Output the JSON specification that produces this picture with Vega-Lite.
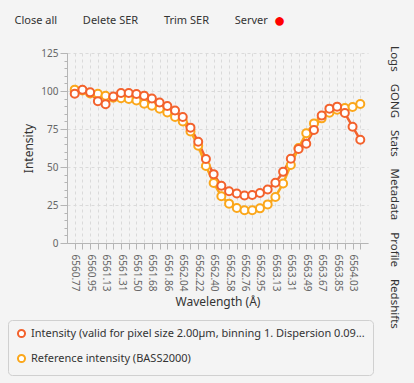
{
  "$schema": "https://vega.github.io/schema/vega-lite/v6.json",
  "width": 301,
  "height": 190,
  "autosize": {"type": "none"},
  "padding": {"left": 67, "top": 53, "right": 46, "bottom": 140},
  "background": "#f4f4f4",
  "config": {"font": "Noto Sans", "view": {"stroke": null}},
  "data": {
    "values": [
      {"wavelength": "6560.77", "series": "Intensity (valid for pixel size 2.00µm, binning 1. Dispersion 0.09...", "intensity": 98.2},
      {"wavelength": "6560.86", "series": "Intensity (valid for pixel size 2.00µm, binning 1. Dispersion 0.09...", "intensity": 100.8},
      {"wavelength": "6560.95", "series": "Intensity (valid for pixel size 2.00µm, binning 1. Dispersion 0.09...", "intensity": 99.1},
      {"wavelength": "6561.04", "series": "Intensity (valid for pixel size 2.00µm, binning 1. Dispersion 0.09...", "intensity": 93.2},
      {"wavelength": "6561.13", "series": "Intensity (valid for pixel size 2.00µm, binning 1. Dispersion 0.09...", "intensity": 91.3},
      {"wavelength": "6561.22", "series": "Intensity (valid for pixel size 2.00µm, binning 1. Dispersion 0.09...", "intensity": 96.3},
      {"wavelength": "6561.31", "series": "Intensity (valid for pixel size 2.00µm, binning 1. Dispersion 0.09...", "intensity": 98.7},
      {"wavelength": "6561.41", "series": "Intensity (valid for pixel size 2.00µm, binning 1. Dispersion 0.09...", "intensity": 98.7},
      {"wavelength": "6561.50", "series": "Intensity (valid for pixel size 2.00µm, binning 1. Dispersion 0.09...", "intensity": 98.0},
      {"wavelength": "6561.59", "series": "Intensity (valid for pixel size 2.00µm, binning 1. Dispersion 0.09...", "intensity": 96.9},
      {"wavelength": "6561.68", "series": "Intensity (valid for pixel size 2.00µm, binning 1. Dispersion 0.09...", "intensity": 95.1},
      {"wavelength": "6561.77", "series": "Intensity (valid for pixel size 2.00µm, binning 1. Dispersion 0.09...", "intensity": 92.4},
      {"wavelength": "6561.86", "series": "Intensity (valid for pixel size 2.00µm, binning 1. Dispersion 0.09...", "intensity": 90.1},
      {"wavelength": "6561.95", "series": "Intensity (valid for pixel size 2.00µm, binning 1. Dispersion 0.09...", "intensity": 87.2},
      {"wavelength": "6562.04", "series": "Intensity (valid for pixel size 2.00µm, binning 1. Dispersion 0.09...", "intensity": 82.9},
      {"wavelength": "6562.13", "series": "Intensity (valid for pixel size 2.00µm, binning 1. Dispersion 0.09...", "intensity": 75.9},
      {"wavelength": "6562.22", "series": "Intensity (valid for pixel size 2.00µm, binning 1. Dispersion 0.09...", "intensity": 66.6},
      {"wavelength": "6562.31", "series": "Intensity (valid for pixel size 2.00µm, binning 1. Dispersion 0.09...", "intensity": 55.3},
      {"wavelength": "6562.40", "series": "Intensity (valid for pixel size 2.00µm, binning 1. Dispersion 0.09...", "intensity": 45.3},
      {"wavelength": "6562.49", "series": "Intensity (valid for pixel size 2.00µm, binning 1. Dispersion 0.09...", "intensity": 37.7},
      {"wavelength": "6562.58", "series": "Intensity (valid for pixel size 2.00µm, binning 1. Dispersion 0.09...", "intensity": 34.0},
      {"wavelength": "6562.67", "series": "Intensity (valid for pixel size 2.00µm, binning 1. Dispersion 0.09...", "intensity": 32.6},
      {"wavelength": "6562.76", "series": "Intensity (valid for pixel size 2.00µm, binning 1. Dispersion 0.09...", "intensity": 31.3},
      {"wavelength": "6562.85", "series": "Intensity (valid for pixel size 2.00µm, binning 1. Dispersion 0.09...", "intensity": 31.6},
      {"wavelength": "6562.95", "series": "Intensity (valid for pixel size 2.00µm, binning 1. Dispersion 0.09...", "intensity": 32.9},
      {"wavelength": "6563.04", "series": "Intensity (valid for pixel size 2.00µm, binning 1. Dispersion 0.09...", "intensity": 35.2},
      {"wavelength": "6563.13", "series": "Intensity (valid for pixel size 2.00µm, binning 1. Dispersion 0.09...", "intensity": 39.6},
      {"wavelength": "6563.22", "series": "Intensity (valid for pixel size 2.00µm, binning 1. Dispersion 0.09...", "intensity": 46.8},
      {"wavelength": "6563.31", "series": "Intensity (valid for pixel size 2.00µm, binning 1. Dispersion 0.09...", "intensity": 55.4},
      {"wavelength": "6563.40", "series": "Intensity (valid for pixel size 2.00µm, binning 1. Dispersion 0.09...", "intensity": 61.8},
      {"wavelength": "6563.49", "series": "Intensity (valid for pixel size 2.00µm, binning 1. Dispersion 0.09...", "intensity": 65.3},
      {"wavelength": "6563.58", "series": "Intensity (valid for pixel size 2.00µm, binning 1. Dispersion 0.09...", "intensity": 74.3},
      {"wavelength": "6563.67", "series": "Intensity (valid for pixel size 2.00µm, binning 1. Dispersion 0.09...", "intensity": 83.8},
      {"wavelength": "6563.76", "series": "Intensity (valid for pixel size 2.00µm, binning 1. Dispersion 0.09...", "intensity": 88.4},
      {"wavelength": "6563.85", "series": "Intensity (valid for pixel size 2.00µm, binning 1. Dispersion 0.09...", "intensity": 89.7},
      {"wavelength": "6563.94", "series": "Intensity (valid for pixel size 2.00µm, binning 1. Dispersion 0.09...", "intensity": 85.5},
      {"wavelength": "6564.03", "series": "Intensity (valid for pixel size 2.00µm, binning 1. Dispersion 0.09...", "intensity": 76.5},
      {"wavelength": "6564.12", "series": "Intensity (valid for pixel size 2.00µm, binning 1. Dispersion 0.09...", "intensity": 67.9},
      {"wavelength": "6560.77", "series": "Reference intensity (BASS2000)", "intensity": 100.9},
      {"wavelength": "6560.86", "series": "Reference intensity (BASS2000)", "intensity": 100.4},
      {"wavelength": "6560.95", "series": "Reference intensity (BASS2000)", "intensity": 98.4},
      {"wavelength": "6561.04", "series": "Reference intensity (BASS2000)", "intensity": 98.2},
      {"wavelength": "6561.13", "series": "Reference intensity (BASS2000)", "intensity": 96.9},
      {"wavelength": "6561.22", "series": "Reference intensity (BASS2000)", "intensity": 95.6},
      {"wavelength": "6561.31", "series": "Reference intensity (BASS2000)", "intensity": 95.3},
      {"wavelength": "6561.41", "series": "Reference intensity (BASS2000)", "intensity": 94.7},
      {"wavelength": "6561.50", "series": "Reference intensity (BASS2000)", "intensity": 93.8},
      {"wavelength": "6561.59", "series": "Reference intensity (BASS2000)", "intensity": 91.6},
      {"wavelength": "6561.68", "series": "Reference intensity (BASS2000)", "intensity": 90.3},
      {"wavelength": "6561.77", "series": "Reference intensity (BASS2000)", "intensity": 88.4},
      {"wavelength": "6561.86", "series": "Reference intensity (BASS2000)", "intensity": 85.9},
      {"wavelength": "6561.95", "series": "Reference intensity (BASS2000)", "intensity": 82.9},
      {"wavelength": "6562.04", "series": "Reference intensity (BASS2000)", "intensity": 80.0},
      {"wavelength": "6562.13", "series": "Reference intensity (BASS2000)", "intensity": 73.4},
      {"wavelength": "6562.22", "series": "Reference intensity (BASS2000)", "intensity": 64.0},
      {"wavelength": "6562.31", "series": "Reference intensity (BASS2000)", "intensity": 50.7},
      {"wavelength": "6562.40", "series": "Reference intensity (BASS2000)", "intensity": 39.5},
      {"wavelength": "6562.49", "series": "Reference intensity (BASS2000)", "intensity": 30.7},
      {"wavelength": "6562.58", "series": "Reference intensity (BASS2000)", "intensity": 25.9},
      {"wavelength": "6562.67", "series": "Reference intensity (BASS2000)", "intensity": 23.0},
      {"wavelength": "6562.76", "series": "Reference intensity (BASS2000)", "intensity": 21.5},
      {"wavelength": "6562.85", "series": "Reference intensity (BASS2000)", "intensity": 21.5},
      {"wavelength": "6562.95", "series": "Reference intensity (BASS2000)", "intensity": 22.8},
      {"wavelength": "6563.04", "series": "Reference intensity (BASS2000)", "intensity": 25.4},
      {"wavelength": "6563.13", "series": "Reference intensity (BASS2000)", "intensity": 30.3},
      {"wavelength": "6563.22", "series": "Reference intensity (BASS2000)", "intensity": 39.2},
      {"wavelength": "6563.31", "series": "Reference intensity (BASS2000)", "intensity": 51.3},
      {"wavelength": "6563.40", "series": "Reference intensity (BASS2000)", "intensity": 62.5},
      {"wavelength": "6563.49", "series": "Reference intensity (BASS2000)", "intensity": 72.2},
      {"wavelength": "6563.58", "series": "Reference intensity (BASS2000)", "intensity": 78.7},
      {"wavelength": "6563.67", "series": "Reference intensity (BASS2000)", "intensity": 82.0},
      {"wavelength": "6563.76", "series": "Reference intensity (BASS2000)", "intensity": 85.7},
      {"wavelength": "6563.85", "series": "Reference intensity (BASS2000)", "intensity": 87.7},
      {"wavelength": "6563.94", "series": "Reference intensity (BASS2000)", "intensity": 88.8},
      {"wavelength": "6564.03", "series": "Reference intensity (BASS2000)", "intensity": 89.5},
      {"wavelength": "6564.12", "series": "Reference intensity (BASS2000)", "intensity": 91.4}
    ]
  },
  "layer": [
    {
      "mark": {"type": "line", "strokeWidth": 2.5},
      "encoding": {
        "x": {
          "field": "wavelength", "type": "ordinal", "sort": null,
          "scale": {"type": "point", "padding": 1.135},
          "axis": {
            "orient": "bottom",
            "title": "Wavelength (Å)", "titleFontSize": 12, "titleFontWeight": "normal", "titleColor": "#333333",
            "titleY": 58, "titleBaseline": "middle",
            "labelAngle": 90, "labelFontSize": 10, "labelColor": "#666666", "labelPadding": 5, "labelOverlap": false,
            "labelExpr": "round(datum.index * 37) % 2 == 0 ? datum.label : ''",
            "tickSize": 6, "tickColor": "#b5b5b5", "domainColor": "#b5b5b5",
            "grid": true, "gridColor": "#dadada", "gridDash": [3, 3]
          }
        },
        "y": {
          "field": "intensity", "type": "quantitative",
          "scale": {"domain": [0, 125], "nice": false, "zero": true},
          "axis": {
            "orient": "left", "values": [0, 25, 50, 75, 100, 125],
            "title": "Intensity", "titleFontSize": 12, "titleFontWeight": "normal", "titleColor": "#333333",
            "titleX": -39, "titleBaseline": "middle",
            "labelFontSize": 10, "labelColor": "#666666", "labelPadding": 2,
            "tickSize": 7, "tickColor": "#b5b5b5", "domainColor": "#b5b5b5",
            "grid": true, "gridColor": "#dadada", "gridDash": [3, 3]
          }
        },
        "stroke": {
          "field": "series", "type": "nominal",
          "scale": {
            "domain": ["Intensity (valid for pixel size 2.00µm, binning 1. Dispersion 0.09...", "Reference intensity (BASS2000)"],
            "range": ["#f3622d", "#fba71b"]
          },
          "legend": {
            "orient": "none", "legendX": -59, "legendY": 267, "direction": "vertical", "title": null,
            "symbolType": "circle", "symbolFillColor": "white", "symbolStrokeWidth": 2, "symbolSize": 50,
            "labelFontSize": 11, "labelColor": "#333333", "labelLimit": 600, "labelOffset": 4,
            "strokeColor": "#d0d0d0", "fillColor": "#f4f4f4", "padding": 8, "cornerRadius": 4, "rowPadding": 8
          }
        }
      }
    },
    {
      "mark": {"type": "point", "shape": "circle", "filled": true, "fill": "white", "size": 64, "strokeWidth": 2, "opacity": 1},
      "encoding": {
        "x": {
          "field": "wavelength", "type": "ordinal", "sort": null, "scale": {"type": "point", "padding": 1.135},
          "axis": {
            "orient": "top", "labels": false, "ticks": false, "domain": false, "grid": false,
            "title": "Close all\u00a0\u00a0\u00a0\u00a0\u00a0\u00a0\u00a0\u00a0\u00a0Delete SER\u00a0\u00a0\u00a0\u00a0\u00a0\u00a0\u00a0\u00a0\u00a0Trim SER\u00a0\u00a0\u00a0\u00a0\u00a0\u00a0\u00a0\u00a0\u00a0Server",
            "titleFontSize": 11, "titleFontWeight": "normal", "titleColor": "#333333",
            "titleX": -53, "titleY": -33, "titleAlign": "left", "titleBaseline": "middle", "titleAnchor": "start"
          }
        },
        "y": {
          "field": "intensity", "type": "quantitative",
          "axis": {
            "orient": "left", "values": [0, 5, 10, 15, 20, 25, 30, 35, 40, 45, 50, 55, 60, 65, 70, 75, 80, 85, 90, 95, 100, 105, 110, 115, 120, 125],
            "labels": false, "domain": false, "grid": false, "title": null,
            "tickSize": 3, "tickColor": "#b5b5b5"
          }
        },
        "stroke": {"field": "series", "type": "nominal"},
        "order": {"field": "series", "sort": "descending"}
      }
    },
    {
      "mark": {"type": "point", "opacity": 0},
      "encoding": {
        "x": {
          "field": "wavelength", "type": "ordinal", "sort": null, "scale": {"type": "point", "padding": 1.135},
          "axis": {
            "orient": "top", "labels": false, "ticks": false, "domain": false, "grid": false,
            "title": "●", "titleFontSize": 20, "titleFontWeight": "normal", "titleColor": "#ff0000",
            "titleX": 212, "titleY": -33, "titleAlign": "center", "titleBaseline": "middle"
          }
        },
        "y": {
          "field": "intensity", "type": "quantitative",
          "axis": {
            "orient": "right", "labels": false, "ticks": false, "domain": false, "grid": false,
            "title": "Logs\u00a0\u00a0\u00a0\u00a0GONG\u00a0\u00a0\u00a0\u00a0Stats\u00a0\u00a0\u00a0\u00a0Metadata\u00a0\u00a0\u00a0\u00a0Profile\u00a0\u00a0\u00a0\u00a0Redshifts",
            "titleAngle": 90, "titleFontSize": 11.5, "titleFontWeight": "normal", "titleColor": "#333333",
            "titleX": 25, "titleY": 134, "titleAlign": "center", "titleBaseline": "middle"
          }
        }
      }
    }
  ],
  "resolve": {"axis": {"x": "independent", "y": "independent"}}
}
